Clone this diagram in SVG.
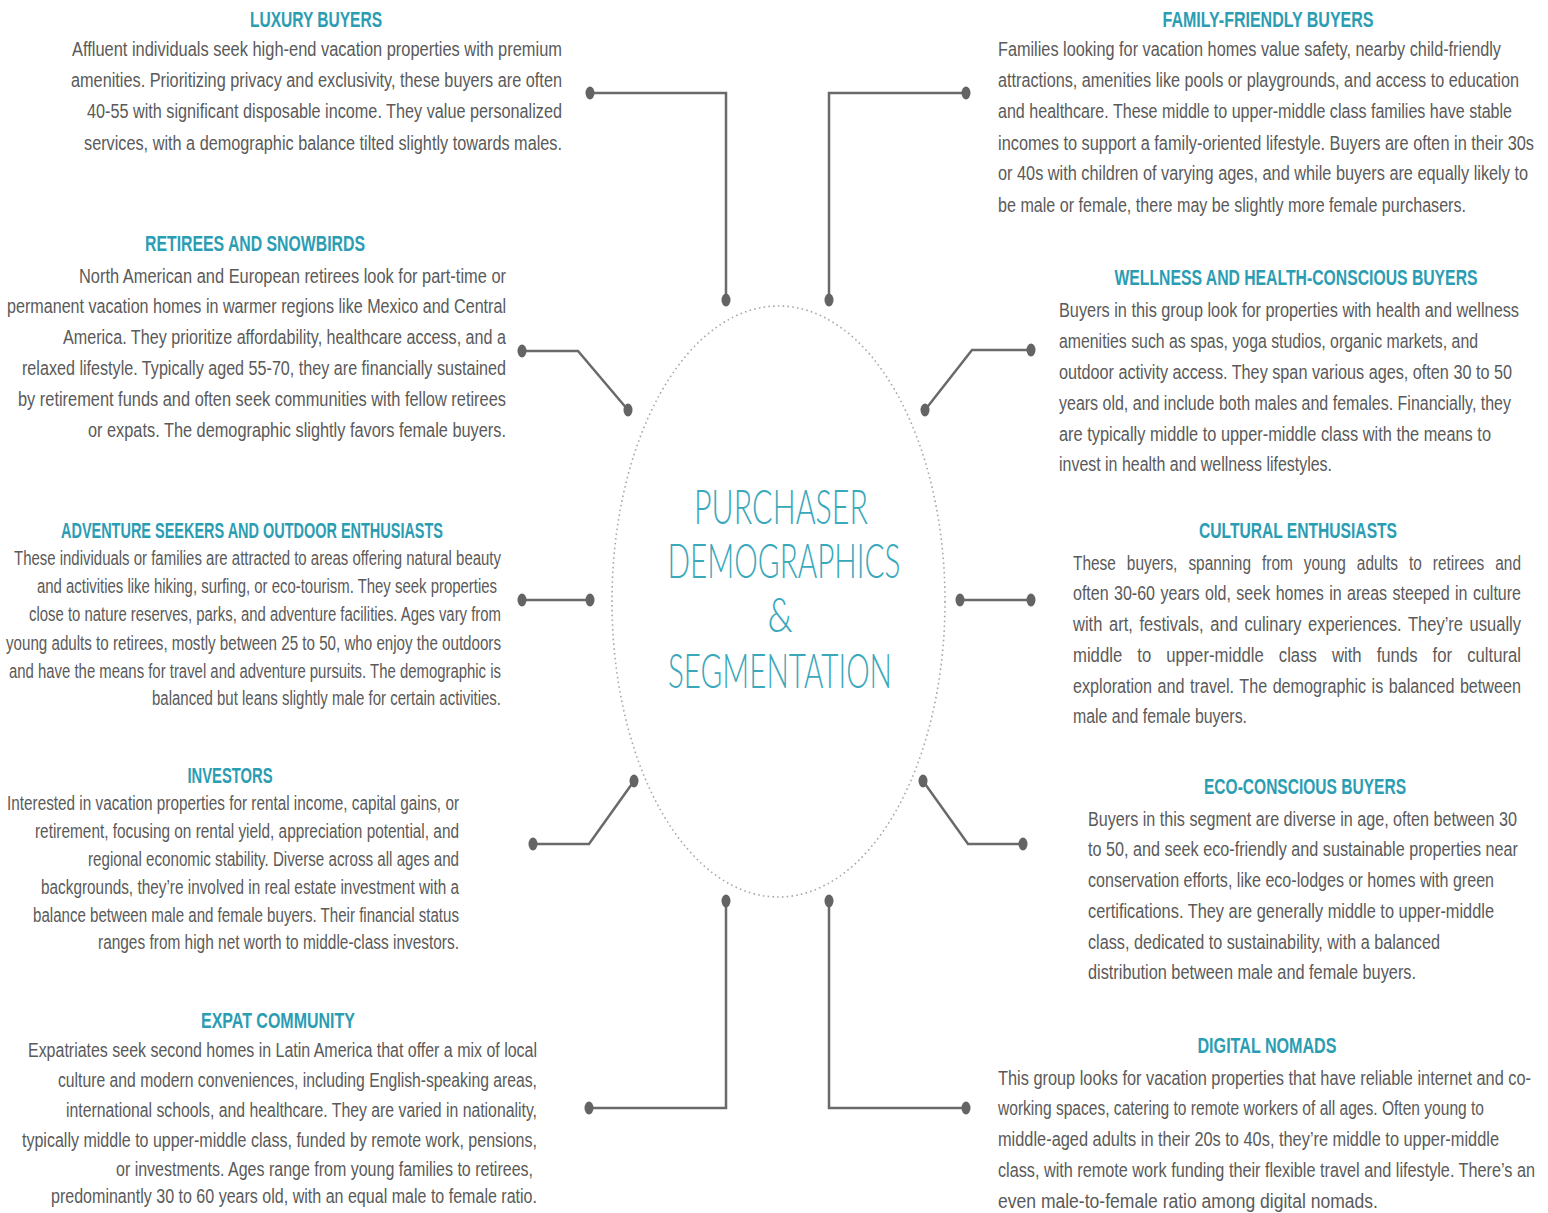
<svg xmlns="http://www.w3.org/2000/svg" width="1548" height="1213" viewBox="0 0 1548 1213">
  <defs>
    <style>
      .bg { fill: #ffffff; }
      .head { font-family: "Liberation Sans", Arial, sans-serif; font-size: 17px; font-weight: bold; fill: #2b9db3; text-anchor: middle; }
      .body { font-family: "Liberation Sans", Arial, sans-serif; font-size: 16px; fill: #5a5a5a; }
      .small { font-size: 15.5px; }
      .title { font-family: Lato, "Open Sans", "Liberation Sans", sans-serif; font-weight: 300; font-size: 36px; fill: #3aa8bb; text-anchor: middle; }
      .wire { fill: none; stroke: #6a6a6a; stroke-width: 2.5; stroke-linejoin: miter; }
      .dot { fill: #646464; }
      .ring { fill: none; stroke: #a8a8a8; stroke-width: 1.6; stroke-dasharray: 1.6 3.2; }
    </style>
  </defs>

  <rect class="bg" x="0" y="0" width="1548" height="1213"/>

  <!-- central hub; lettering is stretched vertically for a condensed look -->
  <g id="hub">
    <ellipse class="ring" cx="778.5" cy="601.5" rx="166.5" ry="295.5"/>
    <g transform="scale(1,1.3)">
      <text class="title" x="781" y="403.1" textLength="174" lengthAdjust="spacingAndGlyphs">PURCHASER</text>
      <text class="title" x="784" y="444.6" textLength="233" lengthAdjust="spacingAndGlyphs">DEMOGRAPHICS</text>
      <text class="title" x="780" y="486.2">&amp;</text>
      <text class="title" x="780" y="529.2" textLength="224" lengthAdjust="spacingAndGlyphs">SEGMENTATION</text>
    </g>
  </g>

  <!-- connectors from the hub to each segment -->
  <g id="connectors">
    <polyline class="wire" points="590,93 726,93 726,300"/>
    <ellipse class="dot" cx="590" cy="93" rx="4.5" ry="6.5"/>
    <ellipse class="dot" cx="726" cy="300" rx="4.5" ry="6.5"/>

    <polyline class="wire" points="522,351 578,351 628,410"/>
    <ellipse class="dot" cx="522" cy="351" rx="4.5" ry="6.5"/>
    <ellipse class="dot" cx="628" cy="410" rx="4.5" ry="6.5"/>

    <polyline class="wire" points="522,600 590,600"/>
    <ellipse class="dot" cx="522" cy="600" rx="4.5" ry="6.5"/>
    <ellipse class="dot" cx="590" cy="600" rx="4.5" ry="6.5"/>

    <polyline class="wire" points="533,844 589,844 634,781"/>
    <ellipse class="dot" cx="533" cy="844" rx="4.5" ry="6.5"/>
    <ellipse class="dot" cx="634" cy="781" rx="4.5" ry="6.5"/>

    <polyline class="wire" points="589,1108 726,1108 726,901"/>
    <ellipse class="dot" cx="589" cy="1108" rx="4.5" ry="6.5"/>
    <ellipse class="dot" cx="726" cy="901" rx="4.5" ry="6.5"/>

    <polyline class="wire" points="966,93 829,93 829,300"/>
    <ellipse class="dot" cx="966" cy="93" rx="4.5" ry="6.5"/>
    <ellipse class="dot" cx="829" cy="300" rx="4.5" ry="6.5"/>

    <polyline class="wire" points="1031,350 972,350 925,410"/>
    <ellipse class="dot" cx="1031" cy="350" rx="4.5" ry="6.5"/>
    <ellipse class="dot" cx="925" cy="410" rx="4.5" ry="6.5"/>

    <polyline class="wire" points="960,600 1031,600"/>
    <ellipse class="dot" cx="960" cy="600" rx="4.5" ry="6.5"/>
    <ellipse class="dot" cx="1031" cy="600" rx="4.5" ry="6.5"/>

    <polyline class="wire" points="923,781 968,844 1023,844"/>
    <ellipse class="dot" cx="923" cy="781" rx="4.5" ry="6.5"/>
    <ellipse class="dot" cx="1023" cy="844" rx="4.5" ry="6.5"/>

    <polyline class="wire" points="829,901 829,1108 966,1108"/>
    <ellipse class="dot" cx="829" cy="901" rx="4.5" ry="6.5"/>
    <ellipse class="dot" cx="966" cy="1108" rx="4.5" ry="6.5"/>
  </g>

  <!-- left column -->
  <g id="luxury-buyers">
    <g transform="scale(1,1.3)">
      <text class="head" x="316" y="20.8" textLength="132" lengthAdjust="spacingAndGlyphs">LUXURY BUYERS</text>
    </g>
    <g transform="scale(1,1.25)">
      <text class="body" x="72" y="44.8" textLength="490" lengthAdjust="spacingAndGlyphs">Affluent individuals seek high-end vacation properties with premium</text>
      <text class="body" x="71" y="69.6" textLength="491" lengthAdjust="spacingAndGlyphs">amenities. Prioritizing privacy and exclusivity, these buyers are often</text>
      <text class="body" x="87" y="94.4" textLength="475" lengthAdjust="spacingAndGlyphs">40-55 with significant disposable income. They value personalized</text>
      <text class="body" x="84" y="120" textLength="478" lengthAdjust="spacingAndGlyphs">services, with a demographic balance tilted slightly towards males.</text>
    </g>
  </g>

  <g id="retirees-snowbirds">
    <g transform="scale(1,1.3)">
      <text class="head" x="255" y="193.1" textLength="220" lengthAdjust="spacingAndGlyphs">RETIREES AND SNOWBIRDS</text>
    </g>
    <g transform="scale(1,1.25)">
      <text class="body" x="79" y="226.4" textLength="427" lengthAdjust="spacingAndGlyphs">North American and European retirees look for part-time or</text>
      <text class="body" x="7" y="250.4" textLength="499" lengthAdjust="spacingAndGlyphs">permanent vacation homes in warmer regions like Mexico and Central</text>
      <text class="body" x="63" y="275.2" textLength="443" lengthAdjust="spacingAndGlyphs">America. They prioritize affordability, healthcare access, and a</text>
      <text class="body" x="22" y="300" textLength="484" lengthAdjust="spacingAndGlyphs">relaxed lifestyle. Typically aged 55-70, they are financially sustained</text>
      <text class="body" x="18" y="324.8" textLength="488" lengthAdjust="spacingAndGlyphs">by retirement funds and often seek communities with fellow retirees</text>
      <text class="body" x="88" y="349.6" textLength="418" lengthAdjust="spacingAndGlyphs">or expats. The demographic slightly favors female buyers.</text>
    </g>
  </g>

  <g id="adventure-seekers">
    <g transform="scale(1,1.3)">
      <text class="head" x="252" y="413.8" textLength="382" lengthAdjust="spacingAndGlyphs">ADVENTURE SEEKERS AND OUTDOOR ENTHUSIASTS</text>
    </g>
    <g transform="scale(1,1.25)">
      <text class="body small" x="14" y="452" textLength="487" lengthAdjust="spacingAndGlyphs">These individuals or families are attracted to areas offering natural beauty</text>
      <text class="body small" x="37" y="474.4" textLength="460" lengthAdjust="spacingAndGlyphs">and activities like hiking, surfing, or eco-tourism. They seek properties</text>
      <text class="body small" x="29" y="496.8" textLength="472" lengthAdjust="spacingAndGlyphs">close to nature reserves, parks, and adventure facilities. Ages vary from</text>
      <text class="body small" x="6" y="520" textLength="495" lengthAdjust="spacingAndGlyphs">young adults to retirees, mostly between 25 to 50, who enjoy the outdoors</text>
      <text class="body small" x="9" y="542.4" textLength="492" lengthAdjust="spacingAndGlyphs">and have the means for travel and adventure pursuits. The demographic is</text>
      <text class="body small" x="152" y="564" textLength="349" lengthAdjust="spacingAndGlyphs">balanced but leans slightly male for certain activities.</text>
    </g>
  </g>

  <g id="investors">
    <g transform="scale(1,1.3)">
      <text class="head" x="230" y="602.3" textLength="85" lengthAdjust="spacingAndGlyphs">INVESTORS</text>
    </g>
    <g transform="scale(1,1.25)">
      <text class="body small" x="7" y="648" textLength="452" lengthAdjust="spacingAndGlyphs">Interested in vacation properties for rental income, capital gains, or</text>
      <text class="body small" x="35" y="670.4" textLength="424" lengthAdjust="spacingAndGlyphs">retirement, focusing on rental yield, appreciation potential, and</text>
      <text class="body small" x="88" y="692.8" textLength="371" lengthAdjust="spacingAndGlyphs">regional economic stability. Diverse across all ages and</text>
      <text class="body small" x="41" y="715.2" textLength="418" lengthAdjust="spacingAndGlyphs">backgrounds, they’re involved in real estate investment with a</text>
      <text class="body small" x="33" y="737.6" textLength="426" lengthAdjust="spacingAndGlyphs">balance between male and female buyers. Their financial status</text>
      <text class="body small" x="98" y="759.2" textLength="361" lengthAdjust="spacingAndGlyphs">ranges from high net worth to middle-class investors.</text>
    </g>
  </g>

  <g id="expat-community">
    <g transform="scale(1,1.3)">
      <text class="head" x="278" y="790.8" textLength="154" lengthAdjust="spacingAndGlyphs">EXPAT COMMUNITY</text>
    </g>
    <g transform="scale(1,1.25)">
      <text class="body" x="28" y="845.6" textLength="509" lengthAdjust="spacingAndGlyphs">Expatriates seek second homes in Latin America that offer a mix of local</text>
      <text class="body" x="58" y="869.6" textLength="479" lengthAdjust="spacingAndGlyphs">culture and modern conveniences, including English-speaking areas,</text>
      <text class="body" x="66" y="893.6" textLength="471" lengthAdjust="spacingAndGlyphs">international schools, and healthcare. They are varied in nationality,</text>
      <text class="body" x="22" y="917.6" textLength="515" lengthAdjust="spacingAndGlyphs">typically middle to upper-middle class, funded by remote work, pensions,</text>
      <text class="body" x="116" y="940.8" textLength="417" lengthAdjust="spacingAndGlyphs">or investments. Ages range from young families to retirees,</text>
      <text class="body" x="51" y="962.4" textLength="486" lengthAdjust="spacingAndGlyphs">predominantly 30 to 60 years old, with an equal male to female ratio.</text>
    </g>
  </g>

  <!-- right column -->
  <g id="family-friendly-buyers">
    <g transform="scale(1,1.3)">
      <text class="head" x="1268" y="20.8" textLength="211" lengthAdjust="spacingAndGlyphs">FAMILY-FRIENDLY BUYERS</text>
    </g>
    <g transform="scale(1,1.25)">
      <text class="body" x="998" y="44.8" textLength="503" lengthAdjust="spacingAndGlyphs">Families looking for vacation homes value safety, nearby child-friendly</text>
      <text class="body" x="998" y="69.6" textLength="521" lengthAdjust="spacingAndGlyphs">attractions, amenities like pools or playgrounds, and access to education</text>
      <text class="body" x="998" y="94.4" textLength="514" lengthAdjust="spacingAndGlyphs">and healthcare. These middle to upper-middle class families have stable</text>
      <text class="body" x="998" y="120" textLength="536" lengthAdjust="spacingAndGlyphs">incomes to support a family-oriented lifestyle. Buyers are often in their 30s</text>
      <text class="body" x="998" y="144" textLength="530" lengthAdjust="spacingAndGlyphs">or 40s with children of varying ages, and while buyers are equally likely to</text>
      <text class="body" x="998" y="169.6" textLength="468" lengthAdjust="spacingAndGlyphs">be male or female, there may be slightly more female purchasers.</text>
    </g>
  </g>

  <g id="wellness-buyers">
    <g transform="scale(1,1.3)">
      <text class="head" x="1296" y="219.2" textLength="363" lengthAdjust="spacingAndGlyphs">WELLNESS AND HEALTH-CONSCIOUS BUYERS</text>
    </g>
    <g transform="scale(1,1.25)">
      <text class="body" x="1059" y="253.6" textLength="460" lengthAdjust="spacingAndGlyphs">Buyers in this group look for properties with health and wellness</text>
      <text class="body" x="1059" y="278.4" textLength="419" lengthAdjust="spacingAndGlyphs">amenities such as spas, yoga studios, organic markets, and</text>
      <text class="body" x="1059" y="303.2" textLength="453" lengthAdjust="spacingAndGlyphs">outdoor activity access. They span various ages, often 30 to 50</text>
      <text class="body" x="1059" y="328" textLength="452" lengthAdjust="spacingAndGlyphs">years old, and include both males and females. Financially, they</text>
      <text class="body" x="1059" y="352.8" textLength="432" lengthAdjust="spacingAndGlyphs">are typically middle to upper-middle class with the means to</text>
      <text class="body" x="1059" y="376.8" textLength="273" lengthAdjust="spacingAndGlyphs">invest in health and wellness lifestyles.</text>
    </g>
  </g>

  <g id="cultural-enthusiasts">
    <g transform="scale(1,1.3)">
      <text class="head" x="1298" y="413.8" textLength="198" lengthAdjust="spacingAndGlyphs">CULTURAL ENTHUSIASTS</text>
    </g>
    <!-- justified paragraph: wider word gaps on the loose lines -->
    <g transform="scale(1,1.25)">
      <text class="body" x="1073" y="456" word-spacing="7" textLength="448" lengthAdjust="spacingAndGlyphs">These buyers, spanning from young adults to retirees and</text>
      <text class="body" x="1073" y="480" word-spacing="1" textLength="448" lengthAdjust="spacingAndGlyphs">often 30-60 years old, seek homes in areas steeped in culture</text>
      <text class="body" x="1073" y="504.8" word-spacing="2" textLength="448" lengthAdjust="spacingAndGlyphs">with art, festivals, and culinary experiences. They’re usually</text>
      <text class="body" x="1073" y="529.6" word-spacing="10" textLength="448" lengthAdjust="spacingAndGlyphs">middle to upper-middle class with funds for cultural</text>
      <text class="body" x="1073" y="554.4" word-spacing="1" textLength="448" lengthAdjust="spacingAndGlyphs">exploration and travel. The demographic is balanced between</text>
      <text class="body" x="1073" y="578.4" textLength="174" lengthAdjust="spacingAndGlyphs">male and female buyers.</text>
    </g>
  </g>

  <g id="eco-conscious-buyers">
    <g transform="scale(1,1.3)">
      <text class="head" x="1305" y="610.8" textLength="202" lengthAdjust="spacingAndGlyphs">ECO-CONSCIOUS BUYERS</text>
    </g>
    <g transform="scale(1,1.25)">
      <text class="body" x="1088" y="660.8" textLength="429" lengthAdjust="spacingAndGlyphs">Buyers in this segment are diverse in age, often between 30</text>
      <text class="body" x="1088" y="684.8" textLength="430" lengthAdjust="spacingAndGlyphs">to 50, and seek eco-friendly and sustainable properties near</text>
      <text class="body" x="1088" y="709.6" textLength="406" lengthAdjust="spacingAndGlyphs">conservation efforts, like eco-lodges or homes with green</text>
      <text class="body" x="1088" y="734.4" textLength="406" lengthAdjust="spacingAndGlyphs">certifications. They are generally middle to upper-middle</text>
      <text class="body" x="1088" y="759.2" textLength="352" lengthAdjust="spacingAndGlyphs">class, dedicated to sustainability, with a balanced</text>
      <text class="body" x="1088" y="783.2" textLength="328" lengthAdjust="spacingAndGlyphs">distribution between male and female buyers.</text>
    </g>
  </g>

  <g id="digital-nomads">
    <g transform="scale(1,1.3)">
      <text class="head" x="1267" y="810" textLength="139" lengthAdjust="spacingAndGlyphs">DIGITAL NOMADS</text>
    </g>
    <g transform="scale(1,1.25)">
      <text class="body" x="998" y="868" textLength="533" lengthAdjust="spacingAndGlyphs">This group looks for vacation properties that have reliable internet and co-</text>
      <text class="body" x="998" y="892" textLength="486" lengthAdjust="spacingAndGlyphs">working spaces, catering to remote workers of all ages. Often young to</text>
      <text class="body" x="998" y="916.8" textLength="501" lengthAdjust="spacingAndGlyphs">middle-aged adults in their 20s to 40s, they’re middle to upper-middle</text>
      <text class="body" x="998" y="941.6" textLength="537" lengthAdjust="spacingAndGlyphs">class, with remote work funding their flexible travel and lifestyle. There’s an</text>
      <text class="body" x="998" y="966.4" textLength="380" lengthAdjust="spacingAndGlyphs">even male-to-female ratio among digital nomads.</text>
    </g>
  </g>
</svg>
